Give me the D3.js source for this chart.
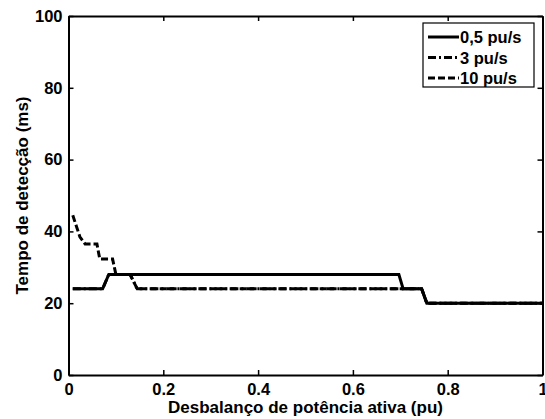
<!DOCTYPE html>
<html>
<head>
<meta charset="utf-8">
<script src="https://cdn.jsdelivr.net/npm/d3@7"></script>
<style>
  body { margin: 0; background: #fff; }
  text { font-family: "Liberation Sans", Arial, sans-serif; font-weight: bold; fill: #000; }
</style>
</head>
<body>
<svg id="chart" width="545" height="419"></svg>
<script>
var seriesNames = ['0,5 pu/s', '3 pu/s', '10 pu/s'];

var x05 = [0.009, 0.072, 0.085, 0.697, 0.706, 0.745, 0.756, 1];
var y05 = [24, 24, 28, 28, 24, 24, 20, 20];

var x3 = [0.009, 0.072, 0.085, 0.13, 0.145, 0.745, 0.756, 1];
var y3 = [24, 24, 28, 28, 24, 24, 20, 20];

var x10 = [0.009, 0.024, 0.035, 0.06, 0.066, 0.093, 0.10, 0.13, 0.145, 0.745, 0.756, 1];
var y10 = [44.5, 38.5, 36.5, 36.5, 32.3, 32.3, 28, 28, 24, 24, 20, 20];

var xTicks = [0, 0.2, 0.4, 0.6, 0.8, 1];
var yTicks = [0, 20, 40, 60, 80, 100];

var margin = {left: 68.5, right: 2.5, top: 16, bottom: 44};
var width = 545, height = 419;

var svg = d3.select('#chart');

var x = d3.scaleLinear().domain([0, 1]).range([margin.left, width - margin.right]);
var y = d3.scaleLinear().domain([0, 100]).range([height - margin.bottom, margin.top]);

var series = [
	{name: seriesNames[0], xs: x05, ys: y05, dash: null},
	{name: seriesNames[1], xs: x3, ys: y3, dash: '8,3,2,3'},
	{name: seriesNames[2], xs: x10, ys: y10, dash: '7,3'}
];

// box with inward ticks on all sides, matlab style
var fmt = function(d){ return d === 0 || d === 1 ? String(d) : d3.format('.1f')(d); };

svg.append('g')
	.attr('transform', 'translate(0,' + y.range()[0] + ')')
	.call(d3.axisBottom(x).tickValues(xTicks).tickSizeInner(-5).tickSizeOuter(0).tickPadding(8).tickFormat(fmt));
svg.append('g')
	.attr('transform', 'translate(0,' + y.range()[1] + ')')
	.call(d3.axisTop(x).tickValues(xTicks).tickSizeInner(-5).tickSizeOuter(0).tickFormat(''));
svg.append('g')
	.attr('transform', 'translate(' + x.range()[0] + ',0)')
	.call(d3.axisLeft(y).tickValues(yTicks).tickSizeInner(-5).tickSizeOuter(0).tickPadding(6).tickFormat(d3.format('d')));
svg.append('g')
	.attr('transform', 'translate(' + x.range()[1] + ',0)')
	.call(d3.axisRight(y).tickValues(yTicks).tickSizeInner(-5).tickSizeOuter(0).tickFormat(''));

svg.selectAll('.domain').attr('stroke', '#000').attr('stroke-width', 2);
svg.selectAll('.tick line').attr('stroke', '#000').attr('stroke-width', 1.5);
svg.selectAll('.tick text').style('font-size', '16.5px').style('font-family', '"Liberation Sans", Arial, sans-serif').style('font-weight', 'bold').attr('fill', '#000');

var line = d3.line().x(function(d){ return x(d[0]); }).y(function(d){ return y(d[1]); });

svg.selectAll('path.series')
	.data(series)
	.enter().append('path')
	.attr('class', 'series')
	.attr('d', function(s){ return line(d3.zip(s.xs, s.ys)); })
	.attr('fill', 'none')
	.attr('stroke', '#000')
	.attr('stroke-width', 3)
	.attr('stroke-dasharray', function(s){ return s.dash; });

// axis titles
svg.append('text')
	.attr('x', (x.range()[0] + x.range()[1]) / 2)
	.attr('y', 413)
	.attr('text-anchor', 'middle')
	.style('font-size', '17px')
	.text('Desbalanço de potência ativa (pu)');

svg.append('text')
	.attr('transform', 'translate(28,' + (y.range()[0] + y.range()[1]) / 2 + ') rotate(-90)')
	.attr('text-anchor', 'middle')
	.style('font-size', '17px')
	.text('Tempo de detecção (ms)');

// legend
var legend = svg.append('g').attr('transform', 'translate(423,23)');
legend.append('rect')
	.attr('width', 111).attr('height', 64)
	.attr('fill', '#fff').attr('stroke', '#000').attr('stroke-width', 1.2);

var rows = legend.selectAll('g.row')
	.data(series)
	.enter().append('g')
	.attr('class', 'row')
	.attr('transform', function(d, i){ return 'translate(0,' + (14 + i * 20.5) + ')'; });

rows.append('line')
	.attr('x1', 5).attr('x2', 36)
	.attr('stroke', '#000').attr('stroke-width', 3)
	.attr('stroke-dasharray', function(s){ return s.dash; });

rows.append('text')
	.attr('x', 37).attr('y', 6)
	.style('font-size', '16.5px')
	.text(function(s){ return s.name; });
</script>
</body>
</html>
